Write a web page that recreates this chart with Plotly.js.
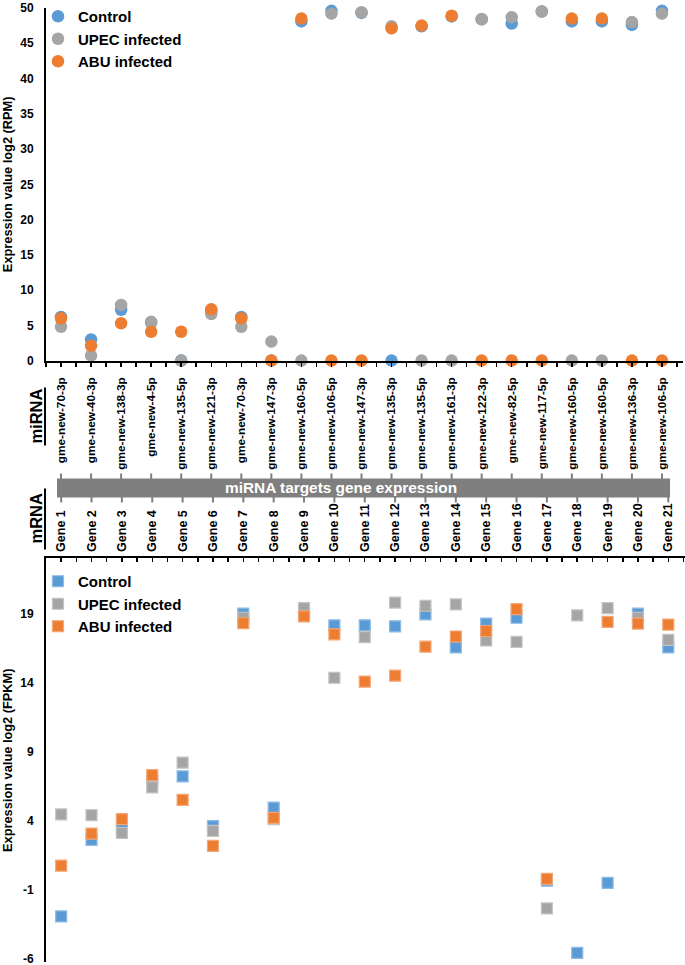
<!DOCTYPE html>
<html><head><meta charset="utf-8">
<script src="https://cdn.plot.ly/plotly-3.0.1.min.js"></script>
<style>html,body{margin:0;padding:0;background:#fff}#chart{width:685px;height:965px}</style>
</head><body><div id="chart"></div>
<script>
// ---- data ----
const miRNAs = ["gme-new-70-3p","gme-new-40-3p","gme-new-138-3p","gme-new-4-5p","gme-new-135-5p","gme-new-121-3p","gme-new-70-3p","gme-new-147-3p","gme-new-160-5p","gme-new-106-5p","gme-new-147-3p","gme-new-135-3p","gme-new-135-5p","gme-new-161-3p","gme-new-122-3p","gme-new-82-5p","gme-new-117-5p","gme-new-160-5p","gme-new-160-5p","gme-new-136-3p","gme-new-106-5p"];
const genes = ["Gene 1","Gene 2","Gene 3","Gene 4","Gene 5","Gene 6","Gene 7","Gene 8","Gene 9","Gene 10","Gene 11","Gene 12","Gene 13","Gene 14","Gene 15","Gene 16","Gene 17","Gene 18","Gene 19","Gene 20","Gene 21"];
const seriesNames = ["Control","UPEC infected","ABU infected"];
// miRNA expression log2 (RPM)
const miControl = [6.2,3.0,7.2,5.4,0,7.0,6.2,0,48.1,49.6,49.3,0,47.4,48.8,48.4,47.8,49.5,48.1,48.1,47.6,49.6];
const miUPEC    = [4.8,0.7,7.9,5.5,0,6.6,4.8,2.7,0,49.2,49.4,47.4,0,0,48.4,48.7,49.5,0,0,48.0,49.2];
const miABU     = [6.0,2.1,5.3,4.1,4.1,7.3,6.0,0,48.5,0,0,47.1,47.5,48.9,0,0,0,48.5,48.5,0,0];
// mRNA expression log2 (FPKM)
const mrControl = [-2.95,2.6,3.4,6.85,7.2,3.6,19.0,4.94,19.1,18.15,18.15,18.08,18.95,16.55,18.28,18.7,-0.35,-5.59,-0.52,19.0,16.55];
const mrUPEC    = [4.45,4.4,3.1,6.4,8.2,3.25,18.7,4.1,19.4,14.35,17.3,19.8,19.57,19.67,17.05,16.95,-2.37,18.87,19.4,18.7,17.1];
const mrABU     = [0.73,3.06,4.1,7.3,5.5,2.17,18.3,4.2,18.8,17.5,14.07,14.5,16.6,17.34,17.74,19.33,-0.23,null,18.4,18.28,18.2];
const yTicksTop = [0,5,10,15,20,25,30,35,40,45,50];
const yTicksBottom = [-6,-1,4,9,14,19];

// ---- styling ----
const colors = ["#5B9BD5","#A5A5A5","#ED7D31"];
const lineColors = ["#8DBBE6","#C4C4C4","#F3A676"];
const FONT = "Liberation Sans, Arial, sans-serif";
const W = 685, H = 965;
const px = x => x / W;
const py = y => 1 - y / H;
const idx = miRNAs.map((_, i) => i + 1);

const traces = [];
[miControl, miUPEC, miABU].forEach((vals, k) => {
  traces.push({type:"scatter", mode:"markers", x: idx, y: vals, name: seriesNames[k],
    xaxis:"x", yaxis:"y", legend:"legend", cliponaxis:false,
    marker:{symbol:"circle", size:12.5, color:colors[k], line:{width:0}}});
});
[mrControl, mrUPEC, mrABU].forEach((vals, k) => {
  traces.push({type:"scatter", mode:"markers", x: genes.map((_, i) => i + 1), y: vals, name: seriesNames[k],
    xaxis:"x2", yaxis:"y2", legend:"legend2", cliponaxis:false,
    marker:{symbol:"square", size:11, color:colors[k], line:{width:1.2, color:lineColors[k]}}});
});

const shapes = [
  {type:"rect", xref:"paper", yref:"paper", x0:px(57), x1:px(670), y0:py(497), y1:py(478), fillcolor:"#7F7F7F", line:{width:0}, layer:"below"},
  {type:"line", xref:"paper", yref:"paper", x0:px(45), x1:px(45), y0:py(387), y1:py(445), line:{color:"#000", width:2}},
  {type:"line", xref:"paper", yref:"paper", x0:px(45), x1:px(45), y0:py(488), y1:py(549), line:{color:"#000", width:2}}
];
idx.forEach(i => {
  shapes.push({type:"line", xref:"x", yref:"paper", x0:i, x1:i, y0:py(479), y1:py(473), line:{color:"#7F7F7F", width:2}});
  shapes.push({type:"line", xref:"x2", yref:"paper", x0:i, x1:i, y0:py(496), y1:py(502), line:{color:"#7F7F7F", width:2}});
});

const annotations = [
  {xref:"paper", yref:"paper", x:px(341), y:py(487.5), text:"miRNA targets gene expression", showarrow:false,
   font:{family:FONT, size:15.4, color:"#fff", weight:"bold"}, xanchor:"center", yanchor:"middle"},
  {xref:"paper", yref:"paper", x:px(36), y:py(416), text:"miRNA", textangle:-90, showarrow:false,
   font:{family:FONT, size:16.5, color:"#000", weight:"bold"}, xanchor:"center", yanchor:"middle"},
  {xref:"paper", yref:"paper", x:px(36), y:py(518), text:"mRNA", textangle:-90, showarrow:false,
   font:{family:FONT, size:16.5, color:"#000", weight:"bold"}, xanchor:"center", yanchor:"middle"}
];

const tickFont = {family:FONT, size:12, color:"#000", weight:"bold"};
const layout = {
  width:W, height:H, margin:{l:0,r:0,t:0,b:0}, paper_bgcolor:"#fff", plot_bgcolor:"rgba(0,0,0,0)",
  font:{family:FONT, color:"#000"},
  showlegend:true,
  xaxis:{domain:[px(46), px(683)], range:[0.5, 21.7], anchor:"y", tickmode:"array", tickvals:idx, ticktext:miRNAs,
    tickangle:-90, tickfont:{family:FONT, size:11.8, color:"#000", weight:"bold"}, ticks:"outside", ticklen:4, tickwidth:1.5, tickcolor:"#000",
    minor:{tick0:0.5, dtick:1, ticks:"outside", ticklen:4, tickwidth:1.5, tickcolor:"#000"},
    showline:true, linecolor:"#000", linewidth:2, showgrid:false, zeroline:false, ticklabelstandoff:6},
  yaxis:{domain:[py(360), py(7)], range:[0,50], anchor:"x", tickmode:"array", tickvals:yTicksTop, ticktext:yTicksTop.map(String), tickfont:tickFont,
    ticks:"", showline:true, linecolor:"#000", linewidth:2, showgrid:false, zeroline:false, ticklabelstandoff:8, ticklabeloverflow:"allow",
    title:{text:"Expression value log2 (RPM)", font:{family:FONT, size:12.8, color:"#000", weight:"bold"}, standoff:6}},
  xaxis2:{domain:[px(46), px(685)], range:[0.5, 21.55], anchor:"y2", side:"top", tickmode:"array", tickvals:genes.map((_, i) => i + 1), ticktext:genes,
    tickangle:-90, tickfont:{family:FONT, size:12.5, color:"#000", weight:"bold"}, ticks:"inside", ticklen:4, tickwidth:1.5, tickcolor:"#000",
    minor:{tick0:0.5, dtick:1, ticks:"inside", ticklen:4, tickwidth:1.5, tickcolor:"#000"},
    showline:true, linecolor:"#000", linewidth:2, showgrid:false, zeroline:false, ticklabelstandoff:2},
  yaxis2:{domain:[py(962), py(558)], range:[-6.25,23], anchor:"x2", tickmode:"array", tickvals:yTicksBottom, ticktext:yTicksBottom.map(String), tickfont:tickFont,
    ticks:"", showline:true, linecolor:"#000", linewidth:2, showgrid:false, zeroline:false, ticklabelstandoff:8, ticklabeloverflow:"allow",
    title:{text:"Expression value log2 (FPKM)", font:{family:FONT, size:12.8, color:"#000", weight:"bold"}, standoff:6}},
  legend:{x:px(38), y:py(-1), xanchor:"left", yanchor:"top", bgcolor:"rgba(0,0,0,0)", tracegroupgap:0,
    font:{family:FONT, size:15, color:"#000", weight:"bold"}, itemclick:false},
  legend2:{x:px(38), y:py(565), xanchor:"left", yanchor:"top", bgcolor:"rgba(0,0,0,0)", tracegroupgap:0,
    font:{family:FONT, size:15, color:"#000", weight:"bold"}, itemclick:false},
  shapes:shapes, annotations:annotations
};
Plotly.newPlot("chart", traces, layout, {displayModeBar:false, staticPlot:true});
</script></body></html>
